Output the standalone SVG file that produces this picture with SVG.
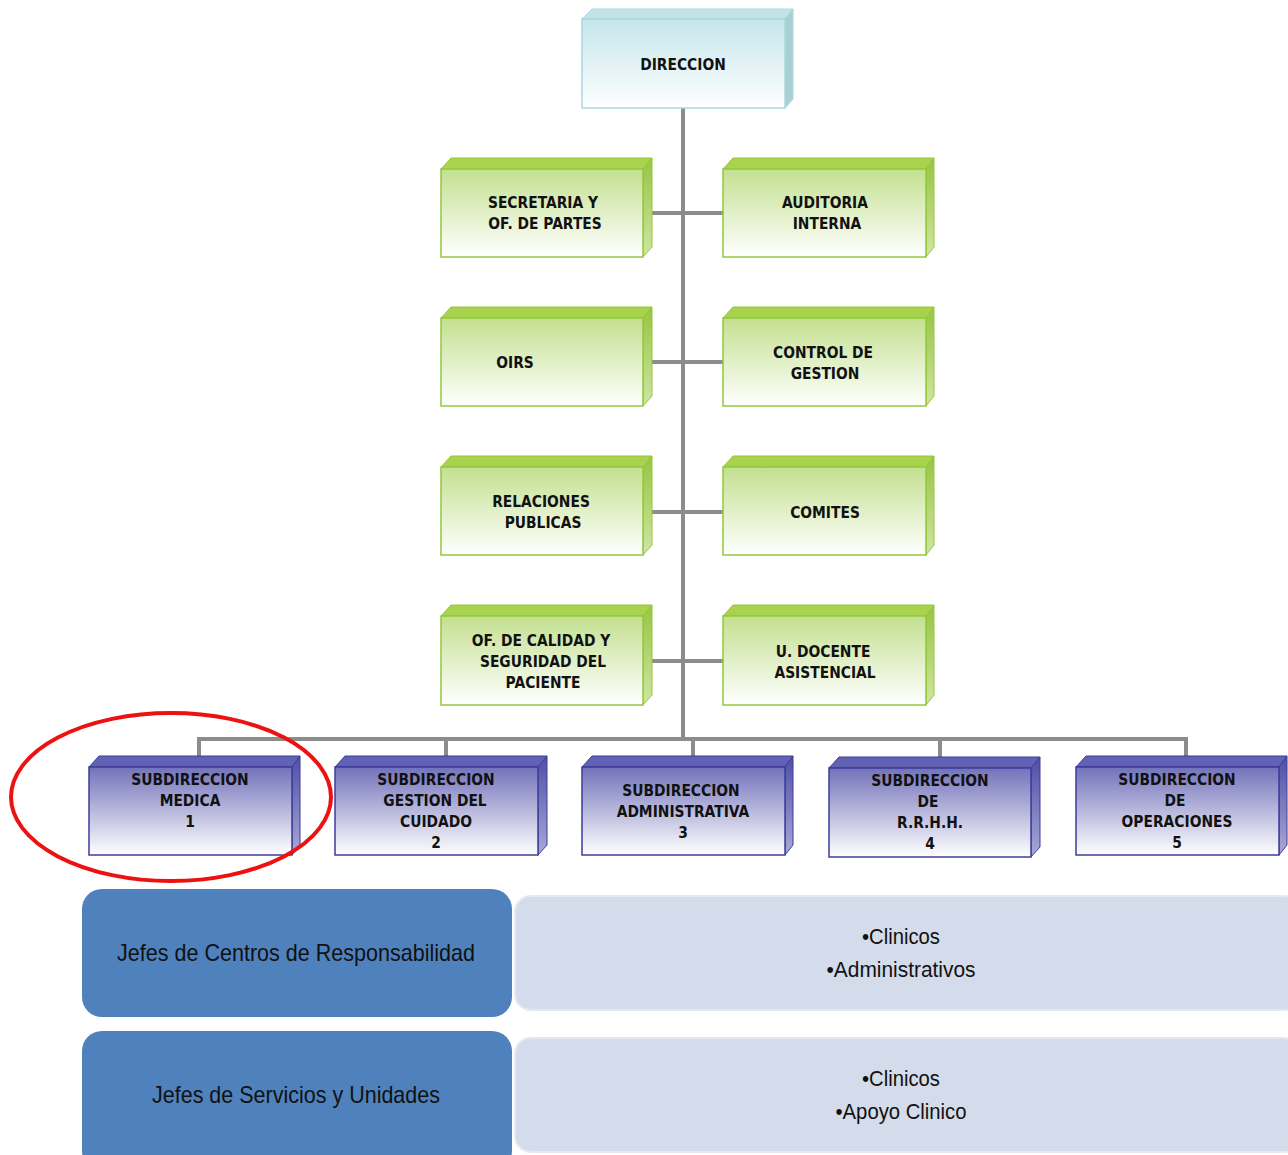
<svg xmlns="http://www.w3.org/2000/svg" width="1288" height="1155" viewBox="0 0 1288 1155">
<defs>
<linearGradient id="gCyan" x1="0" y1="0" x2="0" y2="1"><stop offset="0" stop-color="#c4e6ea"/><stop offset="1" stop-color="#ffffff"/></linearGradient>
<linearGradient id="gGreen" x1="0" y1="0" x2="0" y2="1"><stop offset="0" stop-color="#c3e08f"/><stop offset="1" stop-color="#ffffff"/></linearGradient>
<linearGradient id="gBlue" x1="0" y1="0" x2="0" y2="1"><stop offset="0" stop-color="#7272bb"/><stop offset="1" stop-color="#ffffff"/></linearGradient>
<linearGradient id="gBlueSide" x1="0" y1="0" x2="0" y2="1"><stop offset="0" stop-color="#4e4ea6"/><stop offset="1" stop-color="#a9a9d6"/></linearGradient>
<linearGradient id="gGreenSide" x1="0" y1="0" x2="0" y2="1"><stop offset="0" stop-color="#98c441"/><stop offset="1" stop-color="#cfe6a2"/></linearGradient>
</defs>
<style>
.lbl{font-family:"DejaVu Sans","Liberation Sans",sans-serif;font-weight:bold;font-size:16.5px;fill:#111;text-anchor:middle}
.conn{stroke:#8c8c8c;stroke-width:4;fill:none}
.cF{fill:url(#gCyan);stroke:#a8d8dc;stroke-width:1.5}
.cT{fill:#c2e4e7;stroke:#a8d8dc;stroke-width:1}
.cS{fill:#a9cfd3;stroke:#a8d8dc;stroke-width:1}
.gF{fill:url(#gGreen);stroke:#92c83e;stroke-width:1.5}
.gT{fill:#a9d34c;stroke:#92c83e;stroke-width:1}
.gS{fill:url(#gGreenSide);stroke:#92c83e;stroke-width:1}
.bF{fill:url(#gBlue);stroke:#3d3d9c;stroke-width:1.5}
.bT{fill:#6262b4;stroke:#3d3d9c;stroke-width:1}
.bS{fill:url(#gBlueSide);stroke:#3d3d9c;stroke-width:1}
.big{font-family:"Liberation Sans",sans-serif;font-size:24px;fill:#111;text-anchor:middle}
.bul{font-family:"Liberation Sans",sans-serif;font-size:22px;fill:#111;text-anchor:middle}
</style>
<rect width="1288" height="1155" fill="#ffffff"/>
<g id="connectors">
<line class="conn" x1="683" y1="108" x2="683" y2="739"/>
<line class="conn" x1="652" y1="213" x2="723" y2="213"/>
<line class="conn" x1="652" y1="362" x2="723" y2="362"/>
<line class="conn" x1="652" y1="512" x2="723" y2="512"/>
<line class="conn" x1="652" y1="661" x2="723" y2="661"/>
<polyline class="conn" points="199,757 199,739 1186,739 1186,757"/>
<line class="conn" x1="446" y1="739" x2="446" y2="757"/>
<line class="conn" x1="693" y1="739" x2="693" y2="757"/>
<line class="conn" x1="940" y1="739" x2="940" y2="757"/>
</g>
<g id="direccion">
<polygon class="cT" points="582,19 592,9 793,9 785,19"/>
<polygon class="cS" points="785,19 793,9 793,99 785,108"/>
<rect class="cF" x="582" y="19" width="203" height="89"/>
<text class="lbl" transform="translate(683 0) scale(0.84 1)" x="0" y="70">DIRECCION</text>
</g>
<g id="secretaria">
<polygon class="gT" points="441,169 451,158 652,158 643,169"/>
<polygon class="gS" points="643,169 652,158 652,247 643,257"/>
<rect class="gF" x="441" y="169" width="202" height="88"/>
<text class="lbl" transform="translate(543 0) scale(0.84 1)" x="0" y="208">SECRETARIA Y</text>
<text class="lbl" transform="translate(545 0) scale(0.84 1)" x="0" y="229">OF. DE PARTES</text>
</g>
<g id="auditoria">
<polygon class="gT" points="723,169 733,158 934,158 926,169"/>
<polygon class="gS" points="926,169 934,158 934,247 926,257"/>
<rect class="gF" x="723" y="169" width="203" height="88"/>
<text class="lbl" transform="translate(825 0) scale(0.84 1)" x="0" y="208">AUDITORIA</text>
<text class="lbl" transform="translate(827 0) scale(0.84 1)" x="0" y="229">INTERNA</text>
</g>
<g id="oirs">
<polygon class="gT" points="441,318 451,307 652,307 643,318"/>
<polygon class="gS" points="643,318 652,307 652,396 643,406"/>
<rect class="gF" x="441" y="318" width="202" height="88"/>
<text class="lbl" transform="translate(515 0) scale(0.84 1)" x="0" y="368">OIRS</text>
</g>
<g id="control">
<polygon class="gT" points="723,318 733,307 934,307 926,318"/>
<polygon class="gS" points="926,318 934,307 934,396 926,406"/>
<rect class="gF" x="723" y="318" width="203" height="88"/>
<text class="lbl" transform="translate(823 0) scale(0.84 1)" x="0" y="358">CONTROL DE</text>
<text class="lbl" transform="translate(825 0) scale(0.84 1)" x="0" y="379">GESTION</text>
</g>
<g id="relaciones">
<polygon class="gT" points="441,467 451,456 652,456 643,467"/>
<polygon class="gS" points="643,467 652,456 652,545 643,555"/>
<rect class="gF" x="441" y="467" width="202" height="88"/>
<text class="lbl" transform="translate(541 0) scale(0.84 1)" x="0" y="507">RELACIONES</text>
<text class="lbl" transform="translate(543 0) scale(0.84 1)" x="0" y="528">PUBLICAS</text>
</g>
<g id="comites">
<polygon class="gT" points="723,467 733,456 934,456 926,467"/>
<polygon class="gS" points="926,467 934,456 934,545 926,555"/>
<rect class="gF" x="723" y="467" width="203" height="88"/>
<text class="lbl" transform="translate(825 0) scale(0.84 1)" x="0" y="518">COMITES</text>
</g>
<g id="calidad">
<polygon class="gT" points="441,616 451,605 652,605 643,616"/>
<polygon class="gS" points="643,616 652,605 652,695 643,705"/>
<rect class="gF" x="441" y="616" width="202" height="89"/>
<text class="lbl" transform="translate(541 0) scale(0.84 1)" x="0" y="646">OF. DE CALIDAD Y</text>
<text class="lbl" transform="translate(543 0) scale(0.84 1)" x="0" y="667">SEGURIDAD DEL</text>
<text class="lbl" transform="translate(543 0) scale(0.84 1)" x="0" y="688">PACIENTE</text>
</g>
<g id="docente">
<polygon class="gT" points="723,616 733,605 934,605 926,616"/>
<polygon class="gS" points="926,616 934,605 934,695 926,705"/>
<rect class="gF" x="723" y="616" width="203" height="89"/>
<text class="lbl" transform="translate(823 0) scale(0.84 1)" x="0" y="657">U. DOCENTE</text>
<text class="lbl" transform="translate(825 0) scale(0.84 1)" x="0" y="678">ASISTENCIAL</text>
</g>
<g id="sub1">
<polygon class="bT" points="89,767 99,756 300,756 292,767"/>
<polygon class="bS" points="292,767 300,756 300,845 292,855"/>
<rect class="bF" x="89" y="767" width="203" height="88"/>
<text class="lbl" transform="translate(190 0) scale(0.84 1)" x="0" y="785">SUBDIRECCION</text>
<text class="lbl" transform="translate(190 0) scale(0.84 1)" x="0" y="806">MEDICA</text>
<text class="lbl" transform="translate(190 0) scale(0.84 1)" x="0" y="827">1</text>
</g>
<g id="sub2">
<polygon class="bT" points="335,767 345,756 547,756 538,767"/>
<polygon class="bS" points="538,767 547,756 547,845 538,855"/>
<rect class="bF" x="335" y="767" width="203" height="88"/>
<text class="lbl" transform="translate(436 0) scale(0.84 1)" x="0" y="785">SUBDIRECCION</text>
<text class="lbl" transform="translate(435 0) scale(0.84 1)" x="0" y="806">GESTION DEL</text>
<text class="lbl" transform="translate(436 0) scale(0.84 1)" x="0" y="827">CUIDADO</text>
<text class="lbl" transform="translate(436 0) scale(0.84 1)" x="0" y="848">2</text>
</g>
<g id="sub3">
<polygon class="bT" points="582,767 592,756 793,756 785,767"/>
<polygon class="bS" points="785,767 793,756 793,845 785,855"/>
<rect class="bF" x="582" y="767" width="203" height="88"/>
<text class="lbl" transform="translate(681 0) scale(0.84 1)" x="0" y="796">SUBDIRECCION</text>
<text class="lbl" transform="translate(683 0) scale(0.84 1)" x="0" y="817">ADMINISTRATIVA</text>
<text class="lbl" transform="translate(683 0) scale(0.84 1)" x="0" y="838">3</text>
</g>
<g id="sub4">
<polygon class="bT" points="829,768 839,757 1040,757 1031,768"/>
<polygon class="bS" points="1031,768 1040,757 1040,847 1031,857"/>
<rect class="bF" x="829" y="768" width="202" height="89"/>
<text class="lbl" transform="translate(930 0) scale(0.84 1)" x="0" y="786">SUBDIRECCION</text>
<text class="lbl" transform="translate(928 0) scale(0.84 1)" x="0" y="807">DE</text>
<text class="lbl" transform="translate(930 0) scale(0.84 1)" x="0" y="828">R.R.H.H.</text>
<text class="lbl" transform="translate(930 0) scale(0.84 1)" x="0" y="849">4</text>
</g>
<g id="sub5">
<polygon class="bT" points="1076,767 1086,756 1287,756 1279,767"/>
<polygon class="bS" points="1279,767 1287,756 1287,845 1279,855"/>
<rect class="bF" x="1076" y="767" width="203" height="88"/>
<text class="lbl" transform="translate(1177 0) scale(0.84 1)" x="0" y="785">SUBDIRECCION</text>
<text class="lbl" transform="translate(1175 0) scale(0.84 1)" x="0" y="806">DE</text>
<text class="lbl" transform="translate(1177 0) scale(0.84 1)" x="0" y="827">OPERACIONES</text>
<text class="lbl" transform="translate(1177 0) scale(0.84 1)" x="0" y="848">5</text>
</g>
<ellipse id="highlight" cx="171" cy="797" rx="160" ry="84" fill="none" stroke="#ee1111" stroke-width="4"/>
<g id="row1">
<rect x="515" y="896" width="785" height="114" rx="16" fill="#d4dbea" stroke="#e3e8f2" stroke-width="2"/>
<rect x="82" y="889" width="430" height="128" rx="20" fill="#4f81bd"/>
<text class="big" x="296" y="961" textLength="358" lengthAdjust="spacingAndGlyphs">Jefes de Centros de Responsabilidad</text>
<text class="bul" x="901" y="944" textLength="78" lengthAdjust="spacingAndGlyphs">•Clinicos</text>
<text class="bul" x="901" y="977" textLength="149" lengthAdjust="spacingAndGlyphs">•Administrativos</text>
</g>
<g id="row2">
<rect x="515" y="1038" width="785" height="114" rx="16" fill="#d4dbea" stroke="#e3e8f2" stroke-width="2"/>
<rect x="82" y="1031" width="430" height="140" rx="20" fill="#4f81bd"/>
<text class="big" x="296" y="1103" textLength="288" lengthAdjust="spacingAndGlyphs">Jefes de Servicios y Unidades</text>
<text class="bul" x="901" y="1086" textLength="78" lengthAdjust="spacingAndGlyphs">•Clinicos</text>
<text class="bul" x="901" y="1119" textLength="131" lengthAdjust="spacingAndGlyphs">•Apoyo Clinico</text>
</g>
</svg>
